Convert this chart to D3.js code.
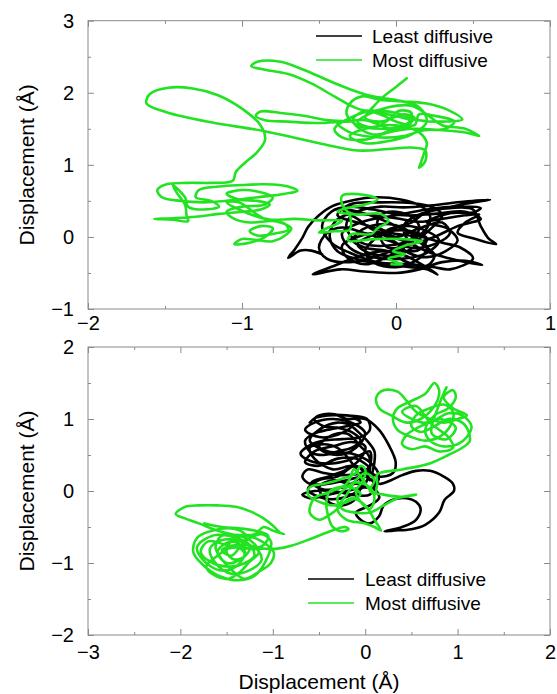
<!DOCTYPE html>
<html>
<head>
<meta charset="utf-8">
<script src="https://cdn.jsdelivr.net/npm/d3@7"></script>
<style>
body { margin: 0; background: #fff; }
text { font-family: "Liberation Sans", Arial, sans-serif; fill: #000; }
</style>
</head>
<body>
<svg id="chart" width="557" height="694"></svg>
<script>
const seriesNames = ['Least diffusive', 'Most diffusive'];
const seriesColors = ['#000000', '#22e322'];
const axisTitle = 'Displacement (Å)';

const topXTicks = [-2, -1, 0, 1];
const topYTicks = [-1, 0, 1, 2, 3];
const bottomXTicks = [-3, -2, -1, 0, 1, 2];
const bottomYTicks = [-2, -1, 0, 1, 2];

// top panel, least diffusive (x, y in Å)
const topLeast = [
  [-0.48,-0.24],[-0.55,-0.19],[-0.62,-0.19],[-0.7,-0.29],[-0.66,-0.18],[-0.61,-0.02],[-0.57,0.14],[-0.5,0.3],
  [-0.41,0.43],[-0.28,0.51],[-0.13,0.55],[0.03,0.52],[0.15,0.44],[0.22,0.3],[0.2,0.12],[0.1,-0.04],[-0.05,-0.12],
  [-0.2,-0.1],[-0.3,0.03],[-0.32,0.2],[-0.25,0.35],[-0.1,0.42],[0.05,0.41],[0.2,0.43],[0.4,0.48],[0.61,0.52],
  [0.45,0.46],[0.3,0.39],[0.15,0.31],[0.05,0.16],[0.08,-0.05],[0.2,-0.2],[0.35,-0.3],[0.5,-0.37],[0.56,-0.39],
  [0.45,-0.33],[0.3,-0.35],[0.15,-0.45],[0.0,-0.5],[-0.2,-0.48],[-0.36,-0.45],[-0.54,-0.52],[-0.4,-0.4],
  [-0.25,-0.28],[-0.1,-0.2],[0.05,-0.25],[0.15,-0.36],[0.27,-0.52],[0.2,-0.45],[0.05,-0.41],[-0.1,-0.38],
  [-0.25,-0.31],[-0.38,-0.2],[-0.43,0.0],[-0.4,0.2],[-0.3,0.32],[-0.15,0.3],[0.0,0.26],[0.15,0.21],[0.3,0.25],
  [0.45,0.3],[0.54,0.31],[0.45,0.2],[0.4,0.06],[0.5,-0.02],[0.65,-0.1],[0.6,-0.02],[0.55,0.15],[0.5,0.38],
  [0.35,0.4],[0.2,0.35],[0.1,0.2],[-0.05,0.1],[-0.15,-0.05],[-0.2,-0.2],[-0.15,-0.35],[0.0,-0.42],[0.15,-0.3],
  [0.2,-0.15],[0.12,0.0],[-0.02,0.05],[-0.12,0.15],[-0.1,0.3],[0.0,0.35],[0.12,0.25],[0.15,0.1],[0.05,-0.1],
  [-0.1,-0.25],[-0.3,-0.35],[-0.45,-0.3],[-0.5,-0.15],[-0.45,0.05],[-0.35,0.13],[-0.2,0.05],[-0.05,-0.05],
  [0.1,-0.15],[0.25,-0.1],[0.35,0.05],[0.3,0.2],[0.15,0.12],[0.0,0.0],[-0.1,0.1],[-0.25,0.2],[-0.38,0.3],
  [-0.3,0.45],[-0.1,0.48],[0.1,0.47],[0.25,0.4],[0.3,0.3],[0.22,0.1],[0.15,-0.05],[0.25,-0.25],[0.2,-0.4],
  [0.05,-0.33],[-0.05,-0.2],[-0.2,-0.15],[-0.28,-0.05],[-0.22,0.1],[-0.08,0.18],[0.05,0.12],[0.12,-0.02],
  [0.05,-0.15],[-0.08,-0.3],[-0.2,-0.38],[-0.32,-0.28],[-0.35,-0.12],[-0.25,0.0],[-0.12,0.05],[0.0,-0.08],
  [0.08,-0.22],[0.2,-0.28],[0.32,-0.2],[0.4,-0.05],[0.33,0.12],[0.2,0.2],[0.35,0.33],[0.5,0.34],
  [0.55,0.4],[0.4,0.42],[0.2,0.38],[0.0,0.3],[-0.2,0.22],[-0.35,0.05],[-0.3,-0.15],[-0.15,-0.28],[0.05,-0.3],
  [0.2,-0.22],[0.28,-0.05],[0.2,0.08],[0.05,0.15],[-0.1,0.0],[-0.05,-0.15],[0.1,-0.1],[0.25,0.0],[0.4,0.15],
  [0.55,0.25],[0.45,0.35],[0.25,0.32],[0.05,0.3],[-0.15,0.38],[-0.3,0.42],[-0.42,0.35],[-0.48,0.15],
  [-0.42,-0.08],[-0.3,-0.22],[-0.12,-0.35],[0.08,-0.38],[0.25,-0.42],[0.35,-0.45],[0.5,-0.3],[0.42,-0.15],
  [0.3,-0.08],[0.1,0.05],[-0.05,0.2],[-0.2,0.32],[-0.35,0.38],[-0.25,0.25],[-0.15,0.1],[0.0,-0.02],
  [0.12,-0.12],[0.0,-0.25],[-0.18,-0.22],[-0.25,-0.1],[-0.18,0.0],[-0.05,0.08],[0.1,0.08],[0.2,-0.02],
  [0.15,-0.18],[0.0,-0.18]
];

// top panel, most diffusive
const topMost = [
  [0.07,2.2],[0.0,2.08],[-0.08,1.95],[-0.15,1.8],[-0.2,1.65],[-0.1,1.6],[0.05,1.7],[0.12,1.65],[0.05,1.55],
  [-0.1,1.5],[-0.25,1.55],[-0.32,1.7],[-0.3,1.85],[-0.22,1.95],[-0.1,1.9],[0.05,1.88],[0.2,1.85],[0.35,1.75],
  [0.43,1.63],[0.3,1.6],[0.15,1.62],[0.0,1.72],[-0.15,1.75],[-0.3,1.65],[-0.4,1.5],[-0.35,1.38],[-0.2,1.35],
  [-0.05,1.45],[0.1,1.5],[0.3,1.48],[0.45,1.45],[0.54,1.4],[0.45,1.5],[0.3,1.55],[0.2,1.7],[0.1,1.82],
  [-0.05,1.8],[-0.18,1.7],[-0.25,1.6],[-0.15,1.52],[-0.05,1.62],[0.02,1.75],[0.1,1.72],[0.08,1.58],
  [-0.02,1.5],[-0.12,1.42],[-0.22,1.48],[-0.28,1.62],[-0.2,1.75],[-0.08,1.68],[0.0,1.6],[0.12,1.55],
  [0.15,1.7],[0.25,1.68],[0.38,1.6],[0.32,1.5],[0.18,1.48],[0.05,1.4],[-0.1,1.38],[-0.3,1.45],[-0.38,1.58],
  [-0.3,1.6],[-0.45,1.62],[-0.6,1.68],[-0.75,1.72],[-0.88,1.74],[-0.91,1.68],
  [-0.85,1.62],[-0.7,1.6],[-0.5,1.58],[-0.35,1.6],[-0.2,1.62],[-0.1,1.55],[0.0,1.48],[0.1,1.6],[-0.05,1.7],
  [-0.25,1.78],[-0.4,1.95],[-0.55,2.13],[-0.7,2.26],[-0.85,2.32],[-0.94,2.37],[-0.9,2.43],[-0.75,2.43],
  [-0.6,2.32],[-0.45,2.18],[-0.3,2.05],[-0.15,1.95],[0.0,1.9],[0.15,1.8],[0.2,1.6],[0.1,1.42],[-0.05,1.33],
  [-0.2,1.3],[-0.3,1.4],[-0.2,1.5],[0.0,1.55],[0.15,1.45],[0.2,1.3],[0.18,1.15],[0.16,1.02],[0.15,0.96],
  [0.19,1.05],[0.19,1.2],[0.1,1.24],[-0.05,1.22],[-0.25,1.2],[-0.5,1.3],[-0.86,1.47],[-1.2,1.59],[-1.49,1.73],
  [-1.62,1.85],[-1.6,1.98],[-1.48,2.07],[-1.32,2.06],[-1.16,1.97],[-1.0,1.78],[-0.88,1.55],[-0.85,1.35],
  [-0.9,1.18],[-0.98,1.03],[-1.04,0.9],[-1.06,0.78],
  [-1.2,0.75],[-1.35,0.75],[-1.49,0.73],[-1.55,0.65],[-1.52,0.55],[-1.4,0.5],[-1.25,0.48],[-1.1,0.5],
  [-0.9,0.55],[-0.72,0.6],[-0.64,0.64],[-0.7,0.7],[-0.85,0.73],[-1.0,0.72],[-1.15,0.7],[-1.28,0.65],
  [-1.3,0.55],[-1.2,0.5],[-1.15,0.42],[-1.25,0.38],[-1.35,0.42],[-1.37,0.55],[-1.45,0.72],[-1.42,0.6],
  [-1.37,0.45],[-1.36,0.3],[-1.35,0.22],[-1.45,0.24],[-1.57,0.25],[-1.45,0.26],[-1.3,0.28],[-1.15,0.32],
  [-1.0,0.35],[-0.88,0.38],[-0.82,0.45],[-0.9,0.5],[-1.02,0.52],[-1.1,0.6],[-1.0,0.65],[-0.88,0.62],
  [-0.8,0.55],[-0.85,0.45],[-1.0,0.42],[-1.1,0.35],[-1.05,0.25],[-0.95,0.2],[-0.8,0.22],[-0.72,0.18],
  [-0.7,0.1],[-0.78,0.05],[-0.9,0.02],[-0.95,0.08],[-0.88,0.15],[-0.8,0.12],[-0.85,0.0],[-0.95,-0.08],
  [-1.05,-0.1],[-1.0,-0.03],[-0.92,-0.04],[-0.8,-0.06],[-0.72,0.02],[-0.68,0.12],[-0.75,0.2],[-0.9,0.28],
  [-1.02,0.38],[-1.1,0.48],[-1.02,0.48],[-0.85,0.25],[-0.66,0.25],[-0.5,0.23],[-0.35,0.22],[-0.45,0.12],
  [-0.5,0.06],[-0.4,0.08],[-0.3,0.1],[-0.3,0.3],[-0.35,0.45],[-0.35,0.57],[-0.2,0.58],[-0.12,0.52],
  [-0.2,0.45],[-0.32,0.4],[-0.38,0.35],[-0.25,0.31],[-0.1,0.32],[-0.05,0.22],[-0.12,0.12],[-0.16,0.04],
  [-0.29,0.04],[-0.31,-0.05],[-0.14,-0.03],[0.05,-0.03],[0.17,-0.06],[0.06,-0.12],[-0.02,-0.2],[0.06,-0.24],
  [-0.05,-0.3],[0.04,-0.38],[-0.03,-0.38]
];

// bottom panel, least diffusive
const bottomLeast = [
  [-0.6,0.95],[-0.5,1.05],[-0.35,1.07],[-0.2,1.0],[-0.1,1.0],[-0.05,0.95],[-0.2,0.9],[-0.4,0.85],[-0.55,0.8],
  [-0.65,0.7],[-0.6,0.55],[-0.45,0.5],[-0.3,0.55],[-0.15,0.6],[-0.05,0.7],[-0.15,0.82],[-0.3,0.88],
  [-0.45,0.9],[-0.55,1.0],[-0.4,1.05],[-0.2,1.05],[0.02,1.0],[0.05,0.85],[-0.05,0.75],[-0.25,0.72],
  [-0.45,0.7],[-0.62,0.62],[-0.7,0.52],[-0.6,0.42],[-0.4,0.38],[-0.2,0.42],[-0.05,0.5],[0.05,0.55],
  [0.05,0.35],[-0.05,0.25],[-0.25,0.22],[-0.45,0.25],[-0.62,0.3],[-0.68,0.2],[-0.6,0.1],[-0.4,0.1],
  [-0.2,0.15],[0.0,0.2],[0.1,0.1],[0.05,-0.05],[-0.15,-0.05],[-0.35,0.0],[-0.55,0.0],[-0.68,-0.05],
  [-0.6,-0.1],[-0.4,-0.05],[-0.2,0.0],[0.0,0.05],[0.12,0.0],[0.15,-0.1],[0.05,-0.2],[-0.1,-0.3],[-0.05,-0.4],
  [0.05,-0.45],[0.15,-0.35],[0.2,-0.2],[0.3,-0.12],[0.45,-0.1],[0.55,-0.15],[0.6,-0.25],[0.55,-0.4],
  [0.4,-0.5],[0.21,-0.56],[0.3,-0.55],[0.5,-0.53],[0.65,-0.47],[0.8,-0.3],[0.86,-0.12],[0.96,0.0],
  [0.95,0.1],[0.85,0.2],[0.7,0.28],[0.55,0.28],[0.4,0.22],[0.28,0.15],[0.15,0.1],[0.08,0.2],[0.1,0.4],
  [0.1,0.55],[0.02,0.7],[-0.1,0.85],[-0.2,0.98],[0.0,1.0],[0.15,0.85],[0.25,0.65],[0.33,0.4],[0.3,0.25],
  [0.15,0.2],[0.0,0.3],[-0.15,0.35],[-0.35,0.3],[-0.55,0.45],[-0.6,0.6],[-0.45,0.65],[-0.3,0.6],
  [-0.15,0.4],[-0.05,0.15],[-0.1,-0.1],[-0.25,-0.2],[-0.4,-0.15],[-0.5,0.05],[-0.35,0.15],[-0.15,0.1],
  [-0.05,0.2],[0.05,0.3],[-0.1,0.45],[-0.3,0.45],[-0.5,0.35],[-0.65,0.4],[-0.55,0.55],[-0.35,0.62],
  [-0.15,0.68],[0.0,0.62],[-0.05,0.45],[-0.2,0.3],[-0.4,0.2],[-0.58,0.12],[-0.45,0.02],[-0.25,0.05],
  [-0.1,0.1],[0.08,0.05],[0.15,0.2],[0.05,0.4],[-0.15,0.52],[-0.4,0.55],[-0.6,0.7],[-0.5,0.85],[-0.3,0.95],
  [-0.15,0.9],[-0.3,0.78],[-0.5,0.75],[-0.65,0.85],[-0.55,0.95],[-0.35,1.0],[-0.1,0.92],[0.0,0.8],
  [-0.1,0.6],[-0.3,0.5],[-0.5,0.6],[-0.4,0.75],[-0.2,0.8],[-0.05,0.62],[0.05,0.45],[0.0,0.1],[-0.2,-0.08],
  [-0.45,-0.1],[-0.62,0.02],[-0.5,0.15],[-0.3,0.2],[-0.1,0.35],[0.05,0.15]
];

// bottom panel, most diffusive
const bottomMost = [
  [-1.74,-0.45],[-1.55,-0.5],[-1.35,-0.52],[-1.2,-0.55],[-1.05,-0.62],[-1.1,-0.75],[-1.3,-0.8],[-1.5,-0.75],
  [-1.7,-0.7],[-1.78,-0.85],[-1.65,-1.0],[-1.45,-1.05],[-1.3,-1.0],[-1.2,-0.9],[-1.25,-0.75],[-1.4,-0.65],
  [-1.55,-0.62],[-1.62,-0.78],[-1.55,-0.95],[-1.4,-1.15],[-1.3,-1.22],[-1.15,-1.12],[-1.02,-1.0],[-0.99,-0.85],
  [-1.12,-0.7],[-1.3,-0.62],[-1.45,-0.7],[-1.5,-0.85],[-1.42,-0.95],[-1.3,-0.9],[-1.35,-0.8],[-1.48,-0.8],
  [-1.6,-0.9],[-1.72,-1.05],[-1.62,-1.18],[-1.48,-1.22],[-1.35,-1.12],[-1.25,-0.98],[-1.15,-0.85],
  [-1.25,-0.68],[-1.45,-0.6],[-1.6,-0.55],[-1.8,-0.45],[-1.95,-0.38],[-2.05,-0.32],[-1.95,-0.22],
  [-1.8,-0.2],[-1.6,-0.2],[-1.4,-0.22],[-1.25,-0.28],[-1.1,-0.38],[-1.0,-0.48],[-0.92,-0.58],[-0.88,-0.6],
  [-1.0,-0.55],[-1.1,-0.5],[-1.2,-0.6],[-1.65,-0.62],[-1.82,-0.78],[-1.76,-0.95],[-1.58,-1.1],[-1.4,-1.05],
  [-1.3,-0.85],[-1.38,-0.72],[-1.5,-0.72],[-1.6,-0.85],[-1.5,-1.0],[-1.35,-0.95],[-1.25,-0.8],[-1.35,-0.7],
  [-1.55,-0.68],[-1.68,-0.8],[-1.62,-1.0],[-1.45,-1.15],[-1.25,-1.1],[-1.12,-0.95],[-1.2,-0.78],[-1.4,-0.75],
  [-1.55,-0.82],[-1.45,-0.9],[-1.3,-0.7],[-1.12,-0.6],[-1.02,-0.7],[-1.05,-0.9],[-1.2,-1.18],[-1.38,-1.24],
  [-1.58,-1.18],[-1.76,-1.02],[-1.86,-0.85],[-1.82,-0.65],[-1.65,-0.55],[-1.45,-0.52],[-1.3,-0.6],
  [-1.3,-0.78],[-1.1,-0.8],[-0.95,-0.8],[-0.8,-0.76],[-0.6,-0.67],
  [-0.4,-0.57],[-0.22,-0.5],[-0.18,-0.53],[-0.25,-0.56],[-0.35,-0.5],[-0.4,-0.35],[-0.42,-0.15],[-0.38,0.0],
  [-0.3,0.05],[-0.15,0.05],[-0.05,-0.05],[-0.2,-0.15],[-0.35,-0.2],[-0.5,-0.15],[-0.62,-0.05],[-0.6,0.05],
  [-0.45,0.1],[-0.3,0.15],[-0.1,0.25],[-0.05,0.35],[0.0,0.3],[-0.02,0.15],[-0.1,0.0],[-0.05,-0.15],
  [0.05,-0.25],[0.1,-0.1],[0.05,0.05],[-0.1,0.12],[-0.2,0.05],[-0.3,-0.1],[-0.25,-0.25],[-0.1,-0.3],
  [0.05,-0.3],[0.2,-0.2],[0.35,-0.1],[0.55,-0.05],[0.4,-0.08],[0.2,-0.05],[0.05,0.0],[0.1,0.15],[0.0,0.25],
  [-0.1,0.15],[-0.2,-0.05],[-0.3,-0.25],[-0.2,-0.4],[0.0,-0.45],[0.1,-0.5],[0.17,-0.55],[0.1,-0.4],
  [0.0,-0.2],[-0.15,-0.1],[-0.35,-0.3],[-0.5,-0.4],[-0.6,-0.3],[-0.55,-0.1],[-0.4,-0.02],[-0.2,0.1],
  [-0.12,0.3],[-0.05,0.2],[0.1,-0.05],[0.13,0.1],[0.13,0.23],[0.4,0.3],[0.67,0.37],[0.9,0.5],[1.05,0.6],[1.13,0.69],
  [1.12,0.82],[1.05,0.95],[0.9,1.0],[0.75,0.9],[0.6,0.82],[0.5,0.9],[0.55,1.05],[0.7,1.15],[0.85,1.2],
  [0.95,1.1],[0.92,0.9],[0.8,0.75],[0.65,0.7],[0.5,0.75],[0.35,0.85],[0.3,1.0],[0.35,1.15],[0.5,1.25],
  [0.65,1.35],[0.75,1.5],[0.8,1.4],[0.78,1.25],[0.7,1.1],[0.6,1.0],[0.45,0.95],[0.28,1.05],[0.15,1.15],
  [0.12,1.3],[0.2,1.4],[0.35,1.38],[0.45,1.25],[0.55,1.1],[0.7,1.0],[0.85,0.95],[1.0,1.0],[1.1,1.05],
  [0.95,1.15],[0.85,1.3],[0.95,1.4],[0.98,1.3],[0.9,1.15],[0.75,1.05],[0.65,0.85],[0.7,0.7],[0.85,0.62],
  [1.0,0.65],[1.1,0.75],[1.15,0.9],[1.05,1.05],[0.9,1.08],[0.75,0.98],[0.6,0.9],[0.45,0.78],[0.4,0.65],
  [0.5,0.58],[0.65,0.62],[0.8,0.55],[0.95,0.6],[0.9,0.75],[0.8,0.85],[0.7,0.95],[0.55,1.18],[0.4,1.1],
  [0.62,0.95],[0.82,1.0],[0.98,0.88],[0.88,0.72],[0.72,0.8],[0.8,1.2],[0.88,1.44]
];

const panels = [
  {x0: 88, x1: 550, y0: 20.7, y1: 309, xDomain: [-2, 1], yDomain: [-1, 3],
   xTicks: topXTicks, yTicks: topYTicks, least: topLeast, most: topMost,
   labelPad: 7, legend: {x: 316, y: 36, text: 372}},
  {x0: 88, x1: 550, y0: 347, y1: 635, xDomain: [-3, 2], yDomain: [-2, 2],
   xTicks: bottomXTicks, yTicks: bottomYTicks, least: bottomLeast, most: bottomMost,
   labelPad: 10, legend: {x: 308, y: 579, text: 365}}
];

const svg = d3.select('#chart');

// minor ticks every 0.5 between the labelled ones
const halfSteps = (ticks) => d3.range(ticks[0], ticks[ticks.length - 1] + 0.01, 0.5)
  .filter(v => !ticks.includes(v));

panels.forEach((p) => {
  const x = d3.scaleLinear().domain(p.xDomain).range([p.x0, p.x1]);
  const y = d3.scaleLinear().domain(p.yDomain).range([p.y1, p.y0]);
  const g = svg.append('g');

  const sides = [
    [d3.axisBottom(x), p.xTicks, `translate(0,${p.y1})`, true],
    [d3.axisTop(x), p.xTicks, `translate(0,${p.y0})`, false],
    [d3.axisLeft(y), p.yTicks, `translate(${p.x0},0)`, true],
    [d3.axisRight(y), p.yTicks, `translate(${p.x1},0)`, false]
  ];
  sides.forEach(([axis, ticks, tr, labelled]) => {
    const major = g.append('g').attr('transform', tr)
      .call(axis.tickValues(ticks).tickSizeInner(-6).tickSizeOuter(0)
        .tickPadding(labelled ? (ticks === p.xTicks ? p.labelPad : 14) : 0)
        .tickFormat(labelled ? d3.format('d') : ''));
    major.selectAll('text').style('font-size', '20px').style('font-family', '"Liberation Sans", Arial, sans-serif').attr('fill', '#000');
    major.select('.domain').remove();
    major.selectAll('line').attr('stroke', '#8a8a8a');
    const minor = g.append('g').attr('transform', tr)
      .call(axis.tickValues(halfSteps(ticks)).tickSizeInner(-3).tickFormat(''));
    minor.select('.domain').remove();
    minor.selectAll('line').attr('stroke', '#8a8a8a');
  });

  g.append('rect')
    .attr('x', p.x0).attr('y', p.y0)
    .attr('width', p.x1 - p.x0).attr('height', p.y1 - p.y0)
    .attr('fill', 'none').attr('stroke', '#8a8a8a').attr('stroke-width', 1);

  const line = d3.line()
    .x(d => x(d[0])).y(d => y(d[1]))
    .curve(d3.curveCatmullRom.alpha(0.5));

  [p.least, p.most].forEach((data, i) => {
    g.append('path').datum(data)
      .attr('d', line)
      .attr('fill', 'none')
      .attr('stroke', seriesColors[i])
      .attr('stroke-width', 2.6)
      .attr('stroke-linejoin', 'round')
      .attr('stroke-linecap', 'round');
  });

  const legend = g.append('g');
  seriesNames.forEach((name, i) => {
    const ly = p.legend.y + i * 24;
    legend.append('line')
      .attr('x1', p.legend.x).attr('x2', p.legend.x + 46)
      .attr('y1', ly).attr('y2', ly)
      .attr('stroke', seriesColors[i]).attr('stroke-width', 1.5);
    legend.append('text')
      .attr('x', p.legend.text).attr('y', ly + 7)
      .style('font-size', '19px')
      .text(name);
  });

  svg.append('text')
    .attr('transform', `translate(34,${(p.y0 + p.y1) / 2}) rotate(-90)`)
    .attr('text-anchor', 'middle')
    .style('font-size', '21px')
    .text(axisTitle);
});

svg.append('text')
  .attr('x', (panels[1].x0 + panels[1].x1) / 2)
  .attr('y', 689)
  .attr('text-anchor', 'middle')
  .style('font-size', '21px')
  .text(axisTitle);
</script>
</body>
</html>
